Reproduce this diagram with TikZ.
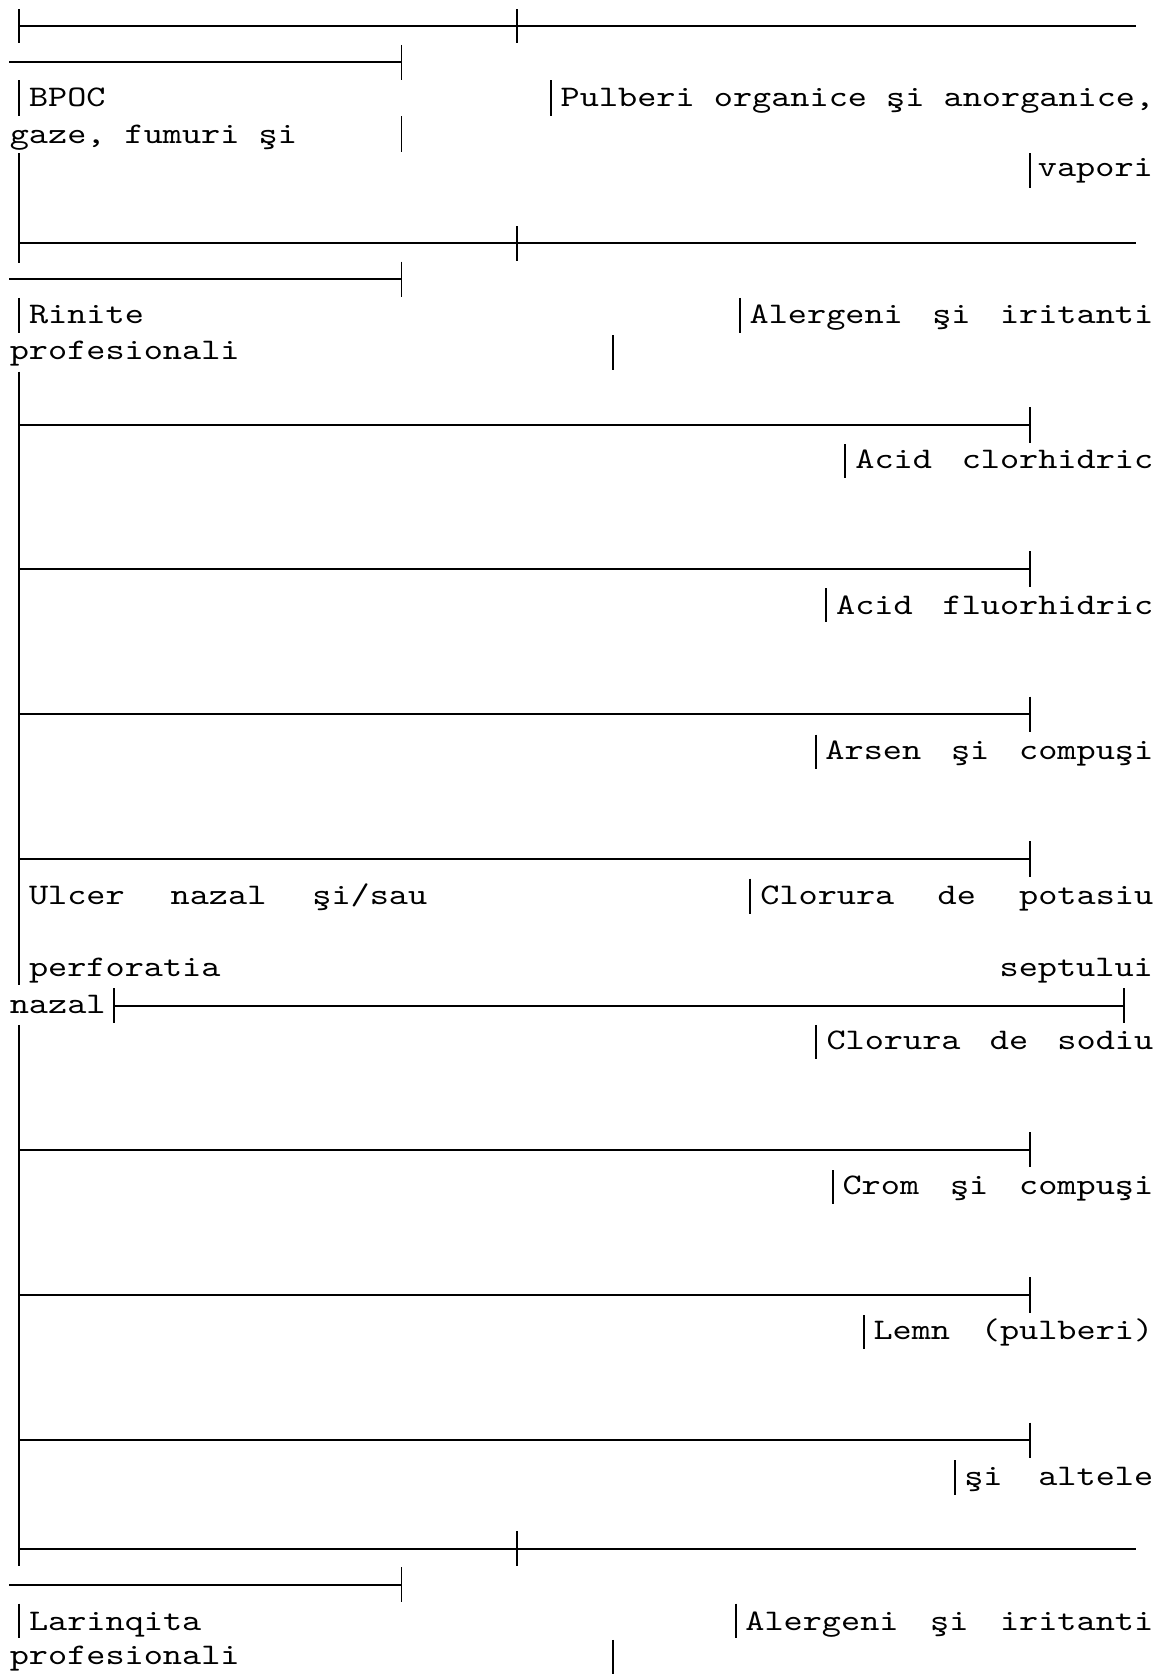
\documentclass[tikz,border=0pt]{standalone}
\usepackage{fontspec}
\newfontfamily\cmono{lmmono10-regular.otf}[FakeStretch=1.22]
\begin{document}
\begin{tikzpicture}[x=1pt,y=-1pt,
  hl/.style={line width=1.9pt},
  vl/.style={line width=1.6pt},
  txt/.style={inner sep=0pt, anchor=base west, font=\cmono\fontsize{28}{34}\selectfont},
  txtr/.style={txt, anchor=base east}]
\useasboundingbox (0,0) rectangle (1093,1568);
% ---------- top block ----------
\draw[hl] (18,24.4) -- (1064,24.4);
\draw[vl] (18,8.5) -- (18,40.5);
\draw[vl] (484,8.5) -- (484,40.5);
\draw[hl] (8.6,58) -- (376,58);
\draw[vl] (376,42) -- (376,75);
\draw[vl] (18,75) -- (18,108.7);
\draw[vl] (516,75) -- (516,108.7);
\draw[vl] (376,109) -- (376,142);
\draw[vl] (964.7,143.6) -- (964.7,176.5);
\draw[vl] (18,143.6) -- (18,246.7);
\node[txt] (bpoc) at (27,100) {BPOC};
\node[txt] (pulb) at (525,100) {\makebox[556pt][l]{Pulberi \hfill organice \hfill şi \hfill anorganice,}};
\node[txt] (gaze) at (9,134.3) {gaze, fumuri şi};
\node[txtr] (vap) at (1080,165.5) {vapori};
% ---------- rinite block ----------
\draw[hl] (18,228) -- (1064,228);
\draw[vl] (484,212) -- (484,244.5);
\draw[hl] (8.6,261) -- (376,261);
\draw[vl] (376,245) -- (376,278);
\draw[vl] (18,279) -- (18,312);
\draw[vl] (693,279) -- (693,312);
\draw[vl] (574,313.8) -- (574,346.5);
\node[txt] (rin) at (27,302.8) {Rinite};
\node[txt] (aler1) at (702,302.8) {\makebox[378pt][l]{Alergeni \hfill şi \hfill iritanti}};
\node[txt] (prof1) at (9,337) {profesionali};
% ---------- left spine ----------
\draw[vl] (18,348) -- (18,922.5);
\draw[vl] (18,960) -- (18,1466.4);
% ---------- middle rows ----------
\foreach \yy in {398,533,669,804.6,1077,1213,1349}{
  \draw[hl] (18,\yy) -- (964.7,\yy);
  \draw[vl] (964.7,\yy-16.5) -- (964.7,\yy+16.5);
}
\draw[vl] (791.6,416) -- (791.6,448);
\draw[vl] (774,551) -- (774,583);
\draw[vl] (764,688) -- (764,720);
\draw[vl] (702.6,823) -- (702.6,856);
\node[txt] (hcl) at (801,438.6) {\makebox[279pt][l]{Acid \hfill clorhidric}};
\node[txt] (hf) at (783,576) {\makebox[297pt][l]{Acid \hfill fluorhidric}};
\node[txt] (as) at (773,711) {\makebox[307pt][l]{Arsen \hfill şi \hfill compuşi}};
\node[txt] (ulc) at (27,847.6) {\makebox[373pt][l]{Ulcer \hfill nazal \hfill şi/sau}};
\node[txt] (kcl) at (712,847.6) {\makebox[368pt][l]{Clorura \hfill de \hfill potasiu}};
\node[txt] (perf) at (27,914.7) {perforatia};
\node[txtr] (sept) at (1080,914.7) {septului};
\node[txt] (naz) at (9,949) {nazal};
\draw[hl] (106.8,942) -- (1053,942);
\draw[vl] (106.8,925.5) -- (106.8,958.5);
\draw[vl] (1053,925.5) -- (1053,958.5);
\draw[vl] (764.6,960) -- (764.6,992);
\node[txt] (nacl) at (774,983.5) {\makebox[306pt][l]{Clorura \hfill de \hfill sodiu}};
\draw[vl] (780,1096) -- (780,1128);
\node[txt] (cr) at (789,1119) {\makebox[291pt][l]{Crom \hfill şi \hfill compuşi}};
\draw[vl] (809.4,1232) -- (809.4,1264);
\node[txt] (lemn) at (818,1255) {\makebox[262pt][l]{Lemn \hfill (pulberi)}};
\draw[vl] (894.5,1368) -- (894.5,1400);
\node[txt] (alt) at (903,1391) {\makebox[177pt][l]{şi \hfill altele}};
% ---------- bottom block ----------
\draw[hl] (18,1451) -- (1064,1451);
\draw[vl] (484,1434) -- (484,1466.4);
\draw[hl] (8.6,1485) -- (376,1485);
\draw[vl] (376,1468) -- (376,1501);
\draw[vl] (18,1502) -- (18,1534);
\draw[vl] (689.4,1502) -- (689.4,1534);
\draw[vl] (574,1536) -- (574,1568);
\node[txt] (lar) at (27,1527) {Larinqita};
\node[txt] (aler2) at (698,1527) {\makebox[382pt][l]{Alergeni \hfill şi \hfill iritanti}};
\node[txt] (prof2) at (9,1559.4) {profesionali};
\end{tikzpicture}
\end{document}
